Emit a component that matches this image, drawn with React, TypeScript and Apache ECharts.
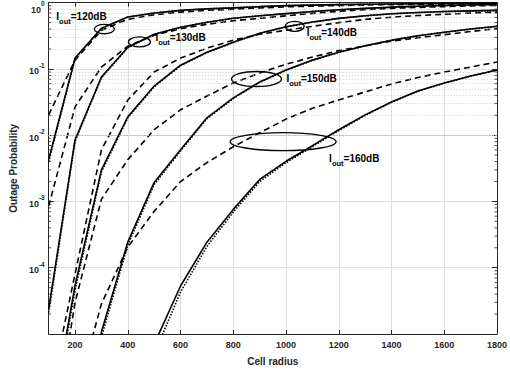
import React, { useEffect, useRef } from 'react';
import * as echarts from 'echarts';

// Cell radius (x)
const radius = [100, 200, 300, 400, 500, 600, 700, 800, 900, 1000, 1100, 1200, 1300, 1400, 1500, 1600, 1700, 1800];

// I_out levels (dB)
const iOutLevels = ['120', '130', '140', '150', '160'];

// Solid curves
const sim120 = [0.0043, 0.146, 0.411, 0.608, 0.698, 0.766, 0.807, 0.836, 0.871, 0.902, 0.92, 0.936, 0.946, 0.956, 0.966, 0.973, 0.979, 0.983];
const sim130 = [2.4e-5, 0.00855, 0.0756, 0.213, 0.334, 0.426, 0.506, 0.581, 0.634, 0.684, 0.735, 0.782, 0.821, 0.856, 0.883, 0.905, 0.924, 0.94];
const sim140 = [3e-7, 5.4e-5, 0.003, 0.019, 0.0553, 0.114, 0.179, 0.253, 0.346, 0.433, 0.51, 0.58, 0.635, 0.68, 0.712, 0.735, 0.752, 0.766];
const sim150 = [1e-9, 1e-7, 1.07e-5, 2.45e-4, 0.00194, 0.00605, 0.0183, 0.0366, 0.0636, 0.0962, 0.136, 0.179, 0.224, 0.272, 0.318, 0.358, 0.4, 0.44];
const sim160 = [1e-11, 1e-10, 1e-8, 5e-7, 7e-6, 5.3e-5, 2.43e-4, 7.6e-4, 0.00215, 0.00404, 0.00695, 0.0121, 0.0203, 0.0318, 0.0466, 0.0614, 0.0782, 0.0962];

// Dotted curves
const ana120 = [0.004, 0.143, 0.408, 0.606, 0.697, 0.765, 0.806, 0.835, 0.87, 0.901, 0.919, 0.935, 0.945, 0.955, 0.965, 0.972, 0.978, 0.982];
const ana130 = [2.1e-5, 0.0081, 0.0735, 0.209, 0.331, 0.424, 0.504, 0.579, 0.633, 0.683, 0.734, 0.781, 0.82, 0.855, 0.882, 0.904, 0.923, 0.939];
const ana140 = [2.5e-7, 4.6e-5, 0.0028, 0.0183, 0.054, 0.112, 0.177, 0.251, 0.344, 0.431, 0.508, 0.578, 0.633, 0.678, 0.71, 0.733, 0.75, 0.764];
const ana150 = [1e-9, 8e-8, 9e-6, 2.2e-4, 0.0018, 0.0058, 0.0178, 0.0358, 0.0628, 0.0955, 0.135, 0.178, 0.223, 0.271, 0.317, 0.357, 0.399, 0.439];
const ana160 = [1e-11, 1e-10, 8e-9, 4e-7, 5e-6, 4.3e-5, 2.1e-4, 6.9e-4, 0.002, 0.00385, 0.0067, 0.0118, 0.0199, 0.0314, 0.0462, 0.061, 0.0778, 0.0958];

// Dashed curves
const apx120 = [0.0203, 0.136, 0.384, 0.561, 0.656, 0.72, 0.766, 0.799, 0.833, 0.865, 0.886, 0.905, 0.92, 0.933, 0.943, 0.953, 0.959, 0.966];
const apx130 = [8.5e-4, 0.0268, 0.107, 0.221, 0.323, 0.404, 0.472, 0.533, 0.581, 0.634, 0.691, 0.74, 0.785, 0.821, 0.85, 0.874, 0.895, 0.911];
const apx140 = [1e-6, 8.1e-5, 0.006, 0.034, 0.0898, 0.146, 0.206, 0.272, 0.334, 0.384, 0.44, 0.5, 0.56, 0.605, 0.64, 0.67, 0.697, 0.72];
const apx150 = [1e-7, 3e-5, 0.00108, 0.00428, 0.0121, 0.0242, 0.039, 0.0614, 0.0868, 0.118, 0.151, 0.189, 0.224, 0.262, 0.296, 0.329, 0.367, 0.407];
const apx160 = [1e-8, 1e-6, 2.85e-5, 2.05e-4, 7.1e-4, 0.002, 0.00386, 0.0067, 0.0109, 0.0175, 0.0255, 0.0341, 0.045, 0.0593, 0.0743, 0.0898, 0.107, 0.127];

const simulated = [sim120, sim130, sim140, sim150, sim160];
const analytic = [ana120, ana130, ana140, ana150, ana160];
const approx = [apx120, apx130, apx140, apx150, apx160];

// axis ranges
const xMin = 100;
const xMax = 1800;
const yMin = 1e-5;
const yMax = 1;

// minor grid (log decades x mantissas)
const decades = [1e-5, 1e-4, 1e-3, 1e-2, 1e-1];
const mantissas = [2, 3, 4, 5, 6, 7, 8, 9];

// annotation anchors (data coordinates)
const ellipseX = [311, 444, 1033, 888, 989];
const ellipseP = [0.4, 0.256, 0.44, 0.0705, 0.008];

// annotation layout (pixels)
const ellipseSize = [[10, 4.7], [11, 5], [9.5, 5], [25, 7.5], [53, 9]];
const labelOffset = [[-48, -11], [16, -2], [12, 8], [30, 1], [46, 19]];

const FONT = '"Liberation Sans", Arial, Helvetica, sans-serif';
const AXIS = '#262626';

export default function App() {
  const ref = useRef<HTMLDivElement>(null);

  useEffect(() => {
    const el = ref.current;
    if (!el) return;
    const chart = echarts.init(el, null, { renderer: 'svg' });

    const minorVals: number[] = [];
    decades.forEach((d) => mantissas.forEach((m) => minorVals.push(m * d)));

    const mkSeries = (arr: number[], type: any, z: number, name: string) => ({
      name,
      type: 'line',
      data: radius.map((r, i) => [r, arr[i]]),
      showSymbol: false,
      symbol: 'none',
      clip: true,
      z,
      lineStyle: { color: '#000', width: 1.6, type },
      emphasis: { disabled: true },
    });

    const series: any[] = [
      {
        name: 'minorGrid',
        type: 'line',
        data: [[xMin, yMin]],
        showSymbol: false,
        symbol: 'none',
        lineStyle: { opacity: 0 },
        z: 1,
        silent: true,
        markLine: {
          silent: true,
          symbol: 'none',
          label: { show: false },
          animation: false,
          lineStyle: { color: '#bdbdbd', width: 0.8, type: [1, 2] },
          data: minorVals.map((v) => ({ yAxis: v })),
        },
      },
    ];
    iOutLevels.forEach((lvl, g) => {
      series.push(mkSeries(approx[g], [6, 4], 3, `apx${lvl}`));
      series.push(mkSeries(analytic[g], [1.5, 1.5], 4, `ana${lvl}`));
      series.push(mkSeries(simulated[g], 'solid', 5, `sim${lvl}`));
    });

    const labelStyle = { color: AXIS, fontFamily: FONT, fontWeight: 'bold' as const, fontSize: 9 };

    chart.setOption({
      animation: false,
      backgroundColor: '#fff',
      grid: { left: 43, right: 9.5, top: 2.7, bottom: 36.5, containLabel: false, show: false },
      xAxis: [
        {
          type: 'value',
          min: xMin,
          max: xMax,
          splitNumber: 8,
          position: 'bottom',
          name: 'Cell radius',
          nameLocation: 'middle',
          nameGap: 22,
          nameTextStyle: { color: AXIS, fontFamily: FONT, fontWeight: 'bold', fontSize: 10 },
          axisLine: { show: true, onZero: false, lineStyle: { color: AXIS, width: 1 } },
          axisTick: { show: true, inside: true, length: 4, lineStyle: { color: AXIS } },
          axisLabel: {
            ...labelStyle,
            margin: 6,
            showMinLabel: false,
            showMaxLabel: true,
            formatter: (v: number) => String(Math.round(v)),
          },
          splitLine: { show: true, lineStyle: { color: '#dedede', width: 1 } },
        },
        {
          type: 'value',
          min: xMin,
          max: xMax,
          splitNumber: 8,
          position: 'top',
          axisLine: { show: true, onZero: false, lineStyle: { color: AXIS, width: 1 } },
          axisTick: { show: true, inside: true, length: 4, lineStyle: { color: AXIS } },
          axisLabel: { show: false },
          splitLine: { show: false },
        },
      ],
      yAxis: [
        {
          type: 'log',
          logBase: 10,
          min: yMin,
          max: yMax,
          position: 'left',
          name: 'Outage Probability',
          nameLocation: 'middle',
          nameGap: 30,
          nameTextStyle: { color: AXIS, fontFamily: FONT, fontWeight: 'bold', fontSize: 10 },
          axisLine: { show: true, onZero: false, lineStyle: { color: AXIS, width: 1 } },
          axisTick: { show: true, inside: true, length: 5, lineStyle: { color: AXIS } },
          axisLabel: {
            margin: 4,
            showMinLabel: false,
            showMaxLabel: false,
            formatter: (v: number) => {
              const e = Math.round(Math.log10(v));
              return `{b|10}{e|${e}}`;
            },
            rich: {
              b: { ...labelStyle, fontSize: 9, lineHeight: 14, verticalAlign: 'bottom' },
              e: { ...labelStyle, fontSize: 6.5, lineHeight: 6, verticalAlign: 'top' },
            },
          },
          splitLine: { show: true, lineStyle: { color: '#dedede', width: 1 } },
        },
        {
          type: 'log',
          logBase: 10,
          min: yMin,
          max: yMax,
          position: 'right',
          axisLine: { show: true, onZero: false, lineStyle: { color: AXIS, width: 1 } },
          axisTick: { show: true, inside: true, length: 5, lineStyle: { color: AXIS } },
          axisLabel: { show: false },
          splitLine: { show: false },
        },
      ],
      series,
    });

    // pixel helpers through the chart's own scales
    const toPx = (x: number, y: number) =>
      chart.convertToPixel({ xAxisIndex: 0, yAxisIndex: 0 }, [x, y]) as number[];

    const leftPx = toPx(xMin, yMax)[0];
    const rightPx = toPx(xMax, yMax)[0];
    const topPx = toPx(xMin, yMax)[1];

    const graphics: any[] = [];
    // minor ticks on left and right axes
    minorVals.forEach((v) => {
      const y = toPx(xMin, v)[1];
      graphics.push({
        type: 'line',
        z: 20,
        silent: true,
        shape: { x1: leftPx, y1: y, x2: leftPx + 2.5, y2: y },
        style: { stroke: AXIS, lineWidth: 0.8 },
      });
      graphics.push({
        type: 'line',
        z: 20,
        silent: true,
        shape: { x1: rightPx - 2.5, y1: y, x2: rightPx, y2: y },
        style: { stroke: AXIS, lineWidth: 0.8 },
      });
    });

    // top tick label (10^0), nudged down so it stays inside the page
    graphics.push({
      type: 'text',
      z: 30,
      silent: true,
      x: leftPx - 4,
      y: topPx + 4.5,
      style: {
        text: `{b|10}{e|${Math.round(Math.log10(yMax))}}`,
        align: 'right',
        verticalAlign: 'middle',
        fill: AXIS,
        rich: {
          b: { fontFamily: FONT, fontWeight: 'bold', fontSize: 9, lineHeight: 14, verticalAlign: 'bottom', fill: AXIS },
          e: { fontFamily: FONT, fontWeight: 'bold', fontSize: 6.5, lineHeight: 6, verticalAlign: 'top', fill: AXIS },
        },
      },
    });

    // ellipses and labels
    iOutLevels.forEach((lvl, g) => {
      const [cx, cy] = toPx(ellipseX[g], ellipseP[g]);
      const [rx, ry] = ellipseSize[g];
      const [dx, dy] = labelOffset[g];
      graphics.push({
        type: 'ellipse',
        z: 30,
        silent: true,
        shape: { cx, cy, rx, ry },
        style: { fill: 'none', stroke: '#000', lineWidth: 1.3 },
      });
      graphics.push({
        type: 'text',
        z: 30,
        silent: true,
        x: cx + dx,
        y: cy + dy,
        style: {
          text: `{main|I}{sub|out}{main|=${lvl}dB}`,
          align: 'left',
          verticalAlign: 'middle',
          fill: '#000',
          rich: {
            main: { fontFamily: FONT, fontWeight: 'bold', fontSize: 10, lineHeight: 14, verticalAlign: 'top', fill: '#000' },
            sub: { fontFamily: FONT, fontWeight: 'bold', fontSize: 7.5, lineHeight: 6, verticalAlign: 'bottom', fill: '#000' },
          },
        },
      });
    });

    chart.setOption({ graphic: { elements: graphics } });

    return () => {
      chart.dispose();
    };
  }, []);

  return (
    <div
      ref={ref}
      style={{ position: 'fixed', left: 0, top: 0, width: 510, height: 371, background: '#fff' }}
    />
  );
}
